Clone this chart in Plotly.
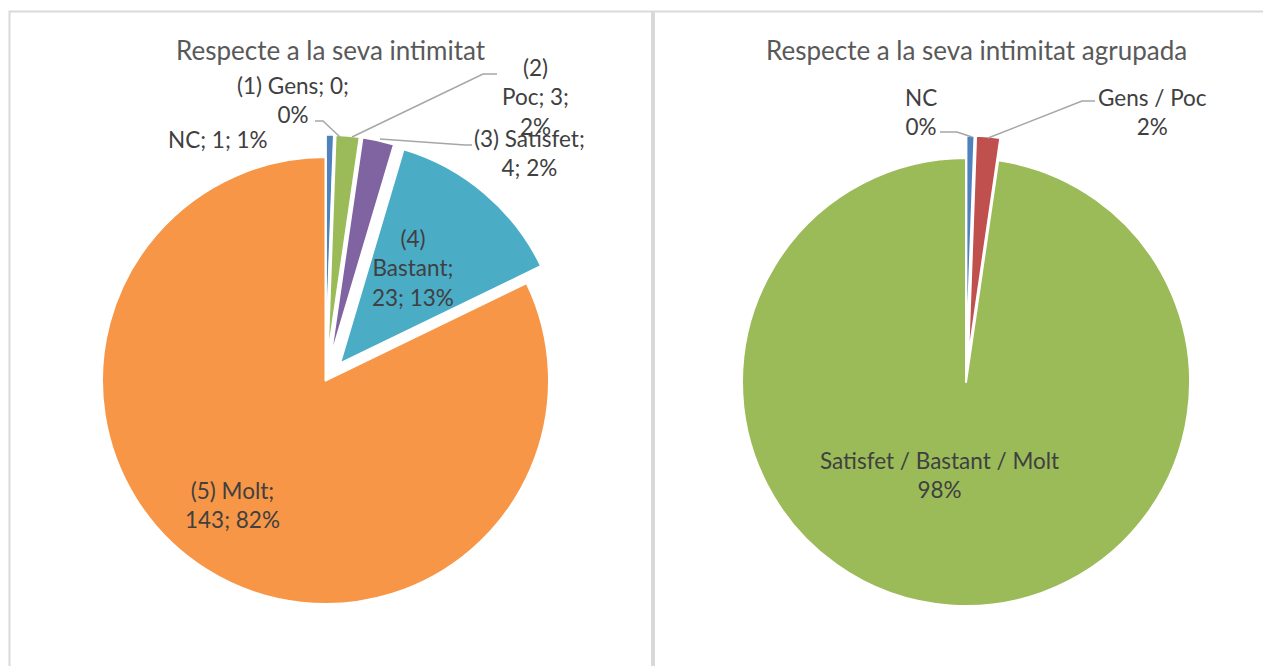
import plotly.graph_objects as go

W, H = 1271, 666
OFF = 8  # page body margin
FW, FH = W - OFF, H - OFF

# ---- data (left pie) ----
cats_left = ["NC", "(1) Gens", "(2) Poc", "(3) Satisfet", "(4) Bastant", "(5) Molt"]
vals_left = [1, 0, 3, 4, 23, 143]
pct_left = ["1%", "0%", "2%", "2%", "13%", "82%"]
colors_left = ["#4F81BD", "#C0504D", "#9BBB59", "#8064A2", "#4BACC6", "#F79646"]
pull_left = [0.1, 0.1, 0.1, 0.1, 0.1, 0.0]

# ---- data (right pie) ----
cats_right = ["NC", "Gens / Poc", "Satisfet / Bastant / Molt"]
vals_right = [1, 3, 170]
pct_right = ["0%", "2%", "98%"]
colors_right = ["#4F81BD", "#C0504D", "#9BBB59"]
pull_right = [0.1, 0.1, 0.0]

title_left = "Respecte a la seva intimitat"
title_right = "Respecte a la seva intimitat agrupada"

FONT = "Lato"
LBL = "#404040"
TTL = "#595959"
LSZ = 22.5
TSZ = 26


def px(x, y):
    return (x - OFF) / FW, 1 - (y - OFF) / FH


def dom(cx, cy, r, pull):
    half = r * (1 + pull)
    x0, y1 = px(cx - half, cy - half)
    x1, y0 = px(cx + half, cy + half)
    return dict(x=[x0, x1], y=[y0, y1])


fig = go.Figure()
fig.add_trace(go.Pie(
    labels=cats_left, values=vals_left, sort=False, direction="clockwise", rotation=0,
    marker=dict(colors=colors_left, line=dict(color="white", width=2)),
    pull=pull_left, textinfo="none", showlegend=False, hoverinfo="label+value+percent",
    domain=dom(325.5, 380.5, 223.5, max(pull_left)),
))
fig.add_trace(go.Pie(
    labels=cats_right, values=vals_right, sort=False, direction="clockwise", rotation=0,
    marker=dict(colors=colors_right, line=dict(color="white", width=2)),
    pull=pull_right, textinfo="none", showlegend=False, hoverinfo="label+value+percent",
    domain=dom(966, 382, 224, max(pull_right)),
))

annotations = []


def ann(text, x, y, size=LSZ, color=LBL):
    xx, yy = px(x, y)
    annotations.append(dict(text=text, x=xx, y=yy, xref="paper", yref="paper",
                            showarrow=False, xanchor="center", yanchor="middle",
                            align="center", font=dict(family=FONT, size=size, color=color)))


# titles
ann(title_left, 331, 50, size=TSZ, color=TTL)
ann(title_right, 976, 50, size=TSZ, color=TTL)

# left labels
ann(f"{cats_left[0]}; {vals_left[0]}; {pct_left[0]}", 218, 140)
ann(f"{cats_left[1]}; {vals_left[1]};<br>{pct_left[1]}", 293, 100)
p = cats_left[2].split(" ")
ann(f"{p[0]}<br>{p[1]}; {vals_left[2]};<br>{pct_left[2]}", 535, 97)
ann(f"{cats_left[3]};<br>{vals_left[3]}; {pct_left[3]}", 529, 153)
p = cats_left[4].split(" ")
ann(f"{p[0]}<br>{p[1]};<br>{vals_left[4]}; {pct_left[4]}", 413, 268)
ann(f"{cats_left[5]};<br>{vals_left[5]}; {pct_left[5]}", 232, 505)

# right labels
ann(f"{cats_right[0]}<br>{pct_right[0]}", 921, 112)
ann(f"{cats_right[1]}<br>{pct_right[1]}", 1152, 112)
ann(f"{cats_right[2]}<br>{pct_right[2]}", 939, 475)

shapes = []


def leader(points):
    pts = [px(x, y) for x, y in points]
    path = "M " + " L ".join(f"{a},{b}" for a, b in pts)
    shapes.append(dict(type="path", path=path, xref="paper", yref="paper",
                       line=dict(color="#A6A6A6", width=1.5)))


leader([(315, 121), (323, 121), (340, 137)])
leader([(497, 74), (483, 74), (352, 137)])
leader([(472, 145), (465, 145), (380, 139)])
leader([(940, 132), (957, 132), (972, 137)])
leader([(1095, 101), (1082, 101), (988, 138)])

# chart area borders
for x0, x1 in [(9.5, 652), (654, 1290)]:
    a0, b0 = px(x0, 700)
    a1, b1 = px(x1, 11.5)
    shapes.append(dict(type="rect", xref="paper", yref="paper", x0=a0, x1=a1, y0=b0, y1=b1,
                       line=dict(color="#D9D9D9", width=2), fillcolor="rgba(0,0,0,0)", layer="below"))

fig.update_layout(
    width=FW, height=FH, margin=dict(l=0, r=0, t=0, b=0),
    paper_bgcolor="white", plot_bgcolor="white",
    annotations=annotations, shapes=shapes,
)

fig.write_html("out.html")
